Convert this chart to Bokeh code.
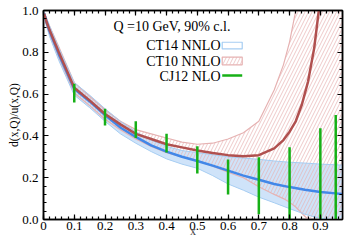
from bokeh.plotting import figure
from bokeh.models import (Range1d, LinearAxis, FixedTicker, Label, NumeralTickFormatter, Title)
from bokeh.embed import file_html
from bokeh.resources import INLINE

# ---- data ----
x_ct14 = [0.002, 0.01, 0.02, 0.05, 0.1, 0.15, 0.2, 0.25, 0.3, 0.35, 0.4, 0.45, 0.5,
          0.55, 0.6, 0.65, 0.7, 0.75, 0.8, 0.85, 0.9, 0.95, 0.97]
ct14_c = [0.985, 0.945, 0.90, 0.79, 0.625, 0.565, 0.50, 0.44, 0.395, 0.355, 0.325, 0.30, 0.28,
          0.258, 0.234, 0.21, 0.19, 0.17, 0.155, 0.142, 0.132, 0.125, 0.122]
ct14_hi = [0.995, 0.965, 0.925, 0.82, 0.655, 0.595, 0.53, 0.47, 0.42, 0.38, 0.35, 0.33, 0.32,
           0.31, 0.30, 0.294, 0.288, 0.28, 0.274, 0.27, 0.265, 0.262, 0.26]
ct14_lo = [0.97, 0.925, 0.875, 0.76, 0.595, 0.535, 0.47, 0.41, 0.365, 0.325, 0.29, 0.265, 0.245,
           0.21, 0.17, 0.14, 0.107, 0.08, 0.052, 0.025, 0.005, 0.0, 0.0]

x_ct10 = [0.002, 0.01, 0.02, 0.05, 0.1, 0.15, 0.2, 0.25, 0.3, 0.35, 0.4, 0.45, 0.5,
          0.55, 0.6, 0.65, 0.7, 0.75, 0.78, 0.8, 0.82, 0.84, 0.86, 0.88, 0.9, 0.95, 0.97]
ct10_c = [0.985, 0.945, 0.905, 0.80, 0.63, 0.57, 0.505, 0.455, 0.41, 0.385, 0.36, 0.345, 0.33,
          0.318, 0.308, 0.303, 0.308, 0.34, 0.38, 0.42, 0.47, 0.55, 0.66, 0.82, 1.06, 1.6, 1.8]
ct10_hi = [0.995, 0.96, 0.925, 0.825, 0.655, 0.59, 0.525, 0.47, 0.43, 0.41, 0.39, 0.37, 0.36,
           0.365, 0.385, 0.415, 0.47, 0.62, 0.74, 0.85, 1.0, 1.2, 1.4, 1.6, 1.8, 2.0, 2.0]
ct10_lo = [0.97, 0.93, 0.885, 0.775, 0.605, 0.545, 0.48, 0.43, 0.385, 0.35, 0.32, 0.30, 0.28,
           0.255, 0.226, 0.20, 0.157, 0.12, 0.10, 0.083, 0.06, 0.03, 0.0, 0.0, 0.0, 0.0, 0.0]

cj_x = [0.1, 0.2, 0.3, 0.4, 0.5, 0.6, 0.7, 0.8, 0.9, 0.95]
cj_lo = [0.56, 0.45, 0.39, 0.32, 0.22, 0.12, 0.025, 0.0, 0.0, 0.0]
cj_hi = [0.65, 0.53, 0.47, 0.41, 0.35, 0.287, 0.298, 0.346, 0.437, 0.50]

x_ticks = [0, 0.1, 0.2, 0.3, 0.4, 0.5, 0.6, 0.7, 0.8, 0.9]
y_ticks = [0.0, 0.2, 0.4, 0.6, 0.8, 1.0]

title_text = "Q =10 GeV, 90% c.l."
legend_labels = ["CT14 NNLO", "CT10 NNLO", "CJ12 NLO"]
x_label = "x"
y_label = "d(x,Q)/u(x,Q)"

# ---- styles ----
FONT = "Liberation Serif"
BLUE = "#4287e8"
BLUE_FILL = "#cfe3f9"
BLUE_EDGE = "#a6cdf2"
RED = "#b0504f"
RED_LIGHT = "#e6b2b2"
GREEN = "#16b016"

W, H = 349, 242
FL, FB = 43, 219   # frame left / bottom in picture pixels

p = figure(width=W, height=H, output_backend="svg", toolbar_location=None,
           x_range=Range1d(0, 0.972), y_range=Range1d(0, 1.0),
           min_border_left=43, min_border_right=7, min_border_top=10, min_border_bottom=23,
           x_axis_location=None, y_axis_location=None)
p.xgrid.visible = False
p.ygrid.visible = False
p.outline_line_color = "black"
p.outline_line_width = 1.5
p.background_fill_color = "white"
p.border_fill_color = "white"

x_minor = [round(i * 0.02, 2) for i in range(0, 49)]
y_minor = [round(i * 0.04, 2) for i in range(0, 26)]

def make_axis(loc, labels):
    ax = LinearAxis()
    if loc in ("below", "above"):
        ax.ticker = FixedTicker(ticks=x_ticks, minor_ticks=x_minor)
        ax.formatter = NumeralTickFormatter(format="0.0")
        ax.major_label_overrides = {0: "0"} if labels else {t: "" for t in x_ticks}
    else:
        ax.ticker = FixedTicker(ticks=y_ticks, minor_ticks=y_minor)
        ax.formatter = NumeralTickFormatter(format="0.0")
        if not labels:
            ax.major_label_overrides = {t: "" for t in y_ticks}
    ax.axis_line_color = "black"
    ax.axis_line_width = 1.5
    ax.major_tick_in = 5
    ax.major_tick_out = 0
    ax.minor_tick_in = 3
    ax.minor_tick_out = 0
    ax.major_tick_line_width = 1.2
    ax.minor_tick_line_width = 1.2
    ax.major_label_text_font = FONT
    ax.major_label_text_color = "black"
    ax.major_label_text_font_size = "13px"
    ax.major_label_standoff = (2 if loc == "below" else 5) if labels else 0
    return ax

xb = make_axis("below", True)
xb.axis_label = x_label
xb.axis_label_text_font = FONT
xb.axis_label_text_font_size = "12px"
xb.axis_label_text_font_style = "normal"
xb.axis_label_standoff = -9
p.add_layout(xb, "below")
p.add_layout(make_axis("left", True), "left")
p.add_layout(make_axis("above", False), "above")
p.add_layout(make_axis("right", False), "right")

p.add_layout(Title(text=y_label, align="center", offset=23, text_font=FONT,
                   text_font_size="11.5px", text_font_style="normal",
                   text_color="black", standoff=0), "left")

# CT14 band
p.varea(x=x_ct14, y1=ct14_lo, y2=ct14_hi, fill_color=BLUE_FILL, fill_alpha=1.0)
# CT10 hatched band
p.varea(x=x_ct10, y1=ct10_lo, y2=ct10_hi, fill_alpha=0,
        hatch_pattern="/", hatch_color=RED_LIGHT, hatch_scale=7, hatch_weight=0.7)
p.line(x_ct10, ct10_hi, line_color=RED_LIGHT, line_width=1.2)
p.line(x_ct10, ct10_lo, line_color=RED_LIGHT, line_width=1.2)
p.line(x_ct14, ct14_hi, line_color=BLUE_EDGE, line_width=1.0)
p.line(x_ct14, ct14_lo, line_color=BLUE_EDGE, line_width=1.0)
p.line(x_ct14, ct14_c, line_color=BLUE, line_width=2.5)
p.line(x_ct10, ct10_c, line_color=RED, line_width=2.5)
p.segment(x0=cj_x, y0=cj_lo, x1=cj_x, y1=cj_hi, line_color=GREEN, line_width=2.5)

# screen positions relative to the frame
def fx(px):
    return px - FL

def fy(py):
    return FB - py

p.add_layout(Label(x=fx(113), y=fy(26), x_units="screen", y_units="screen", text=title_text,
                   text_font=FONT, text_font_size="14px", text_baseline="middle",
                   text_align="left", text_color="black"))
rows_py = [45, 61, 76]
for lab, py in zip(legend_labels, rows_py):
    p.add_layout(Label(x=fx(220), y=fy(py), x_units="screen", y_units="screen", text=lab,
                       text_font=FONT, text_font_size="14px", text_baseline="middle",
                       text_align="right", text_color="black"))

sw_x0, sw_x1 = 0.581, 0.646
p.quad(left=[sw_x0], right=[sw_x1], bottom=[0.816], top=[0.848],
       fill_color="white", line_color=BLUE_EDGE, line_width=1.2)
p.quad(left=[sw_x0], right=[sw_x1], bottom=[0.740], top=[0.777],
       fill_color="white", line_color=RED_LIGHT, line_width=1.2,
       hatch_pattern="/", hatch_color=RED_LIGHT, hatch_scale=7, hatch_weight=0.7)
p.segment(x0=[sw_x0], y0=[0.689], x1=[sw_x1], y1=[0.689], line_color=GREEN, line_width=2.5)

open("out.html", "w").write(file_html(p, INLINE))
